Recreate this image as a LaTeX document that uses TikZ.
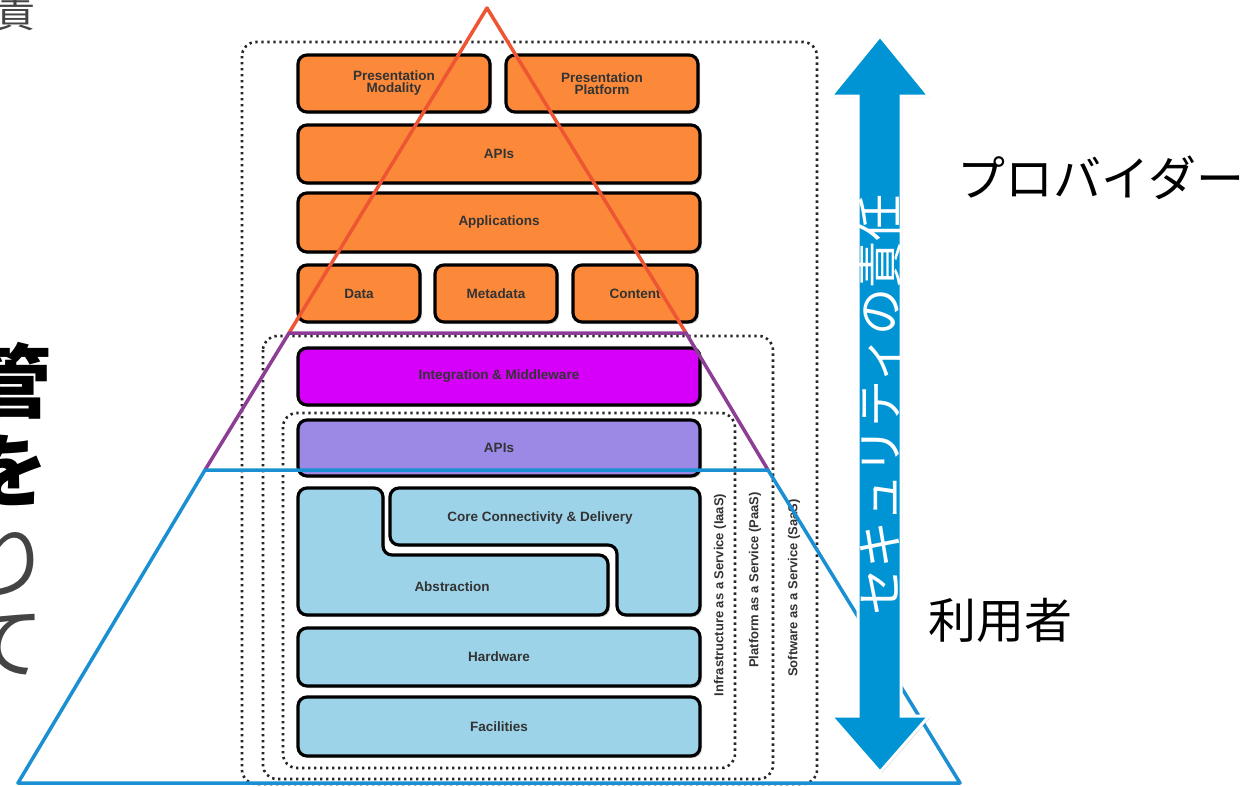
\documentclass[tikz,border=0pt]{standalone}
\usepackage{fontspec}
\setmainfont{Liberation Sans}
\newfontfamily\jp{Noto Sans CJK JP}
\usetikzlibrary{shadows}
\definecolor{orng}{HTML}{FB8939}
\definecolor{magn}{HTML}{D600FA}
\definecolor{purp}{HTML}{9C89E6}
\definecolor{lblue}{HTML}{9CD3E8}
\definecolor{redl}{HTML}{EE5533}
\definecolor{purl}{HTML}{8E3D96}
\definecolor{bluel}{HTML}{1A8FD2}
\definecolor{arrowc}{HTML}{0094D4}
\definecolor{greyt}{HTML}{444444}
\tikzset{
  lbl/.style={font=\bfseries\fontsize{13.5}{14}\selectfont, text=black!80},
  blk/.style={draw=black, line width=3.2, rounded corners=9, inner sep=0,
    align=center, lbl,
    drop shadow={opacity=0.35, shadow xshift=2pt, shadow yshift=-2pt}},
  dotbox/.style={draw=black!85, line width=2.6, line cap=butt,
    dash pattern=on 2.4pt off 3.6pt, rounded corners=14},
  tri/.style={line width=3.5, line cap=round, line join=round},
  svc/.style={rotate=90, font=\bfseries\fontsize{13}{14}\selectfont, text=black!80, inner sep=0},
  jpbig/.style={font=\jp\fontsize{80}{80}\selectfont, inner sep=0},
  jplab/.style={font=\jp\fontsize{48}{48}\selectfont, inner sep=0}
}
\begin{document}
\begin{tikzpicture}[x=1pt,y=-1pt]
\useasboundingbox (0,0) rectangle (1251,787);
\clip (0,0) rectangle (1251,787);
\fill[white] (0,0) rectangle (1251,787);

% left cut-off characters
\node[font=\jp\fontsize{40}{40}\selectfont, text=greyt, inner sep=0] (c0) at (15,12) {責};
\node[jpbig, font=\jp\bfseries\fontsize{80}{80}\selectfont, text=black] (c1) at (12,381) {管};
\node[jpbig, font=\jp\bfseries\fontsize{80}{80}\selectfont, text=black] (c2) at (9,470) {を};
\node[jpbig, text=greyt] (c3) at (10,562) {り};
\node[jpbig, text=greyt] (c4) at (5,645) {て};

% dotted service boxes
\draw[dotbox] (242,42) rectangle (817,784);
\draw[dotbox] (263,336) rectangle (773,779);
\draw[dotbox] (283,413) rectangle (735,768);

% orange blocks
\node[blk, fill=orng, minimum width=192, minimum height=57] (pm) at (394,83.5) {Presentation\\[-2pt]Modality};
\node[blk, fill=orng, minimum width=192, minimum height=57] (pp) at (602,83.5) {Presentation\\[-2pt]Platform};
\node[blk, fill=orng, minimum width=402, minimum height=58] (api1) at (499,154) {APIs};
\node[blk, fill=orng, minimum width=402, minimum height=59] (app) at (499,222.5) {Applications};
\node[blk, fill=orng, minimum width=122, minimum height=57] (data) at (359,293.5) {Data};
\node[blk, fill=orng, minimum width=122, minimum height=57] (meta) at (496,293.5) {Metadata};
\node[blk, fill=orng, minimum width=124, minimum height=57] (cont) at (635,293.5) {Content};

% middle blocks
\node[blk, fill=magn, minimum width=402, minimum height=57] (integ) at (499,376.5) {Integration \& Middleware};
\node[blk, fill=purp, minimum width=402, minimum height=56] (api2) at (499,448) {APIs};

% interlocking blue shapes
\draw[blk, fill=lblue] (298,488) -- (383,488) -- (383,555) -- (608,555) -- (608,615) -- (298,615) -- cycle;
\draw[blk, fill=lblue] (390,488) -- (700,488) -- (700,615) -- (617,615) -- (617,545) -- (390,545) -- cycle;
\node[lbl] (abs) at (452,587) {Abstraction};
\node[lbl] (core) at (540,518) {Core Connectivity \& Delivery};

\node[blk, fill=lblue, minimum width=402, minimum height=58] (hw) at (499,657) {Hardware};
\node[blk, fill=lblue, minimum width=402, minimum height=59] (fac) at (499,726.5) {Facilities};

% service labels
\node[svc] (iaas) at (720,595) {Infrastructure as a Service (IaaS)};
\node[svc] (paas) at (755,580) {Platform as a Service (PaaS)};
\node[svc] (saas) at (794,588) {Software as a Service (SaaS)};

% triangles
\coordinate (apex) at (487,8);
\coordinate (pl) at (289,333);
\coordinate (pr) at (686,333);
\coordinate (bl) at (205,470);
\coordinate (br) at (768,470);
\coordinate (ll) at (18,783);
\coordinate (lr) at (960,783);
\draw[tri, redl] (pl) -- (apex) -- (pr);
\draw[tri, purl] (bl) -- (pl) -- (pr) -- (br);
\draw[tri, bluel] (bl) -- (br) -- (lr) -- (ll) -- cycle;

% double arrow
\draw[fill=arrowc, draw=white, line width=3, line join=miter,
  drop shadow={opacity=0.3, shadow xshift=1.5pt, shadow yshift=-1.5pt}]
  (880,36) -- (929,96) -- (901,96) -- (901,716) -- (929,716) -- (880,772)
  -- (831,716) -- (858,716) -- (858,96) -- (831,96) -- cycle;
\node[rotate=90, font=\jp\fontsize{47}{47}\selectfont, text=white, inner sep=0] (resp) at (880,405) {セキュリティの責任};

% right labels
\node[jplab] (prov) at (1101,178) {プロバイダー};
\node[jplab] (user) at (1000,620) {利用者};
\end{tikzpicture}
\end{document}
